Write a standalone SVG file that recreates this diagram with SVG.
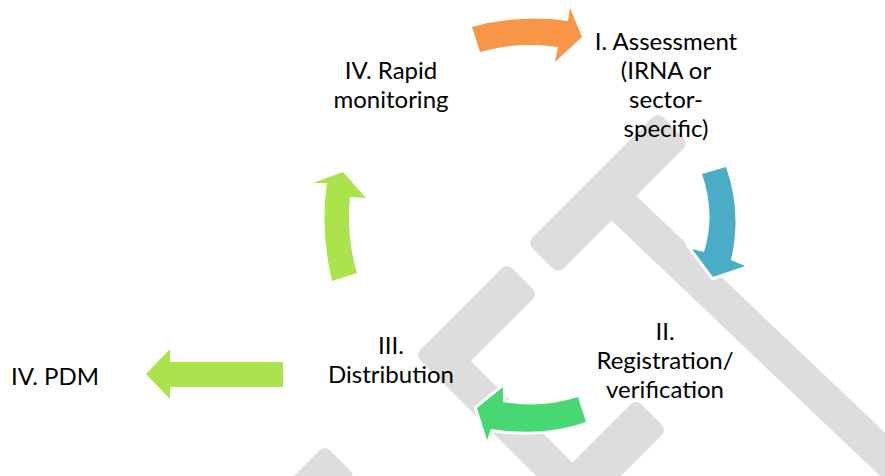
<svg xmlns="http://www.w3.org/2000/svg" width="885" height="476" viewBox="0 0 885 476">
  <style>
    .mark { fill: #dddddd; }
    .mark-soft { fill: #dddddd; stroke: #dddddd; stroke-width: 14; stroke-linejoin: round; }
    .arrow { stroke: #ffffff; stroke-width: 6; stroke-linejoin: miter; paint-order: stroke; }
    .label { font-family: "Lato", "Liberation Sans", sans-serif; font-size: 24px; fill: #000000; text-anchor: middle; }
  </style>

  <!-- light grey background mark -->
  <g id="backdrop">
    <rect class="mark" x="515.5" y="171" width="185" height="44" rx="8" transform="rotate(-45 608 193)"/>
    <polygon class="mark" points="630,190 920,466 900,495 600,209.6"/>
    <polygon class="mark-soft" points="507,273 528,294 461,361 572.5,472.5 636,409 657,430 578.5,508.5 425,355"/>
    <rect class="mark" x="232" y="483.5" width="127" height="44" rx="8" transform="rotate(-45 295.5 505.5)"/>
  </g>

  <!-- cycle connectors -->
  <g id="connectors">
    <path id="arrow-to-assessment" class="arrow" fill="#f79646"
          d="M472,27 Q520,14 568,21 L570,8 L582,37 L555,62 L558,47 Q520,41 480,52 Z"/>
    <path id="arrow-to-registration" class="arrow" fill="#4bacc6"
          d="M702,174 Q716,214 704,252 L692,249 L713,277 L745,266 L731,260 Q742,212 726,167 Z"/>
    <path id="arrow-to-distribution" class="arrow" fill="#47d873"
          d="M578,397 Q540,409 503,402 L503,387 L477,408 L487,440 L491,429 Q545,437 586,422 Z"/>
    <path id="arrow-to-monitoring" class="arrow" fill="#abe34c"
          d="M332,281 Q320,230 327,183 L313,183 L343,172 L366,198 L350,197 Q346,236 357,273 Z"/>
    <path id="arrow-to-pdm" fill="#abe34c"
          d="M283,362 L170,362 L170,349 L146,374 L170,399 L170,387 L283,387 Z"/>
  </g>

  <g id="node-assessment">
    <text class="label" x="666" y="50">I. Assessment</text>
    <text class="label" x="666" y="79">(IRNA or</text>
    <text class="label" x="666" y="108">sector-</text>
    <text class="label" x="666" y="137">specific)</text>
  </g>

  <g id="node-registration">
    <text class="label" x="665" y="340">II.</text>
    <text class="label" x="665" y="369">Registration/</text>
    <text class="label" x="665" y="398">verification</text>
  </g>

  <g id="node-distribution">
    <text class="label" x="391" y="354">III.</text>
    <text class="label" x="391" y="383">Distribution</text>
  </g>

  <g id="node-monitoring">
    <text class="label" x="391" y="79">IV. Rapid</text>
    <text class="label" x="391" y="108">monitoring</text>
  </g>

  <g id="node-pdm">
    <text class="label" x="55" y="385">IV. PDM</text>
  </g>
</svg>
